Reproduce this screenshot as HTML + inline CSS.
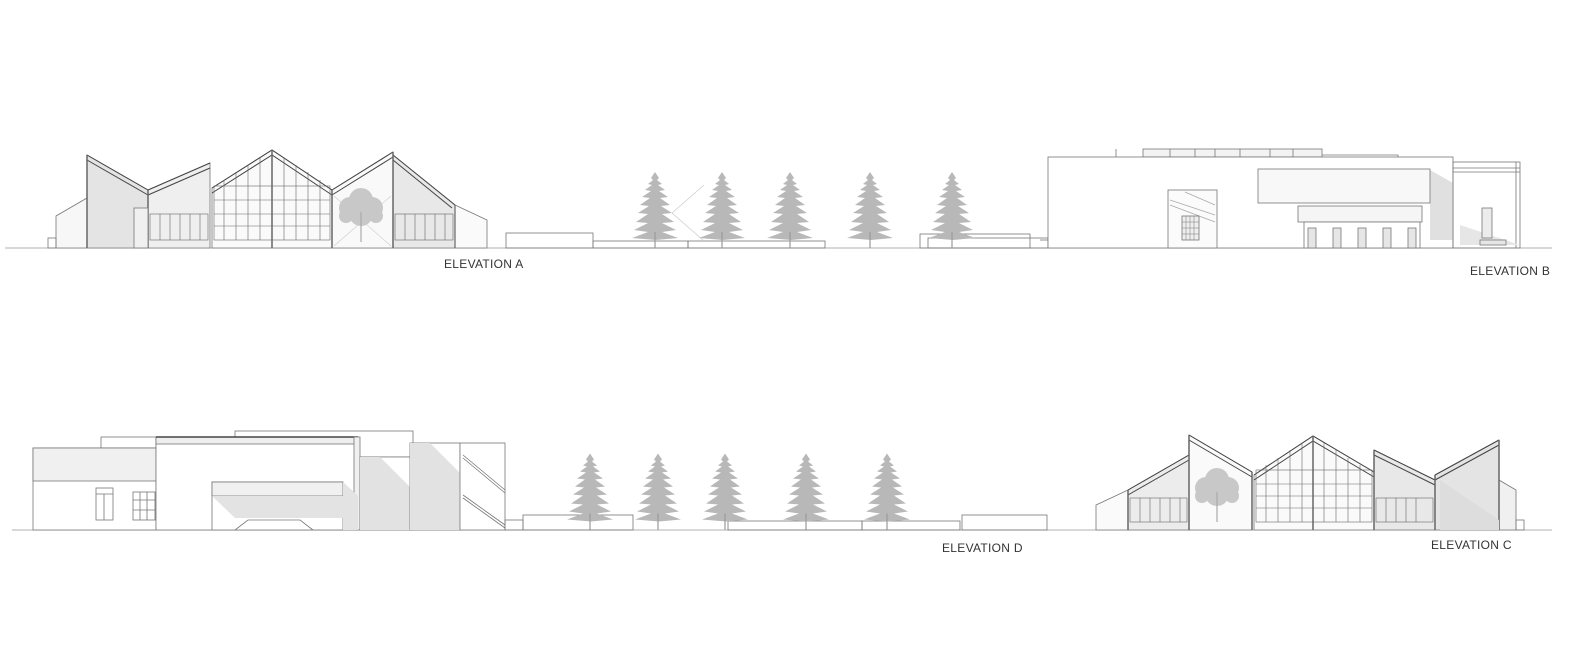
<!DOCTYPE html>
<html><head><meta charset="utf-8"><style>
html,body{margin:0;padding:0;background:#fff;overflow:hidden;width:1582px;height:649px}
svg{display:block}
text{font-family:"Liberation Sans",sans-serif;font-size:12px;fill:#333;letter-spacing:0.3px}
</style></head><body>
<svg width="1582" height="649" viewBox="0 0 1582 649" xmlns="http://www.w3.org/2000/svg">
<defs>
<symbol id="tree" viewBox="0 0 46 76" overflow="visible">
<g fill="#b8b8b8">
<path d="M23 0 L27 6 L25 8 L30 12 L26 13 L33 18 L27 19 L36 25 L28 26 L38 33 L29 34 L40 41 L30 42 L42 50 L30 51 L44 58 L30 60 L46 66 L24 68 L0 66 L16 60 L2 58 L16 51 L4 50 L16 42 L6 41 L17 34 L8 33 L18 26 L10 25 L19 19 L13 18 L20 13 L16 12 L21 8 L19 6 Z"/>
</g>
<line x1="23" y1="60" x2="23" y2="76" stroke="#999" stroke-width="1.2"/>
</symbol>
<symbol id="btree" viewBox="0 0 50 60" overflow="visible">
<g fill="#c8c8c8">
<circle cx="25" cy="18" r="12"/><circle cx="14" cy="26" r="11"/><circle cx="36" cy="26" r="11"/><circle cx="25" cy="32" r="12"/><circle cx="10" cy="34" r="7"/><circle cx="40" cy="34" r="7"/>
</g>
<line x1="25" y1="30" x2="25" y2="60" stroke="#aaa" stroke-width="1.2"/>
</symbol>
</defs>

<g stroke="#777" stroke-width="0.8" fill="none">
<line x1="5" y1="248" x2="1552" y2="248" stroke="#999"/>
<line x1="12" y1="530" x2="1552" y2="530" stroke="#999"/>

<!-- ===== ELEVATION A ===== -->
<polygon points="56,216 87,198 87,248 56,248" fill="#f7f7f7"/>
<polygon points="87,155 148,190 148,248 87,248" fill="#e4e4e4"/>
<polygon points="148,190 210,163 210,248 148,248" fill="#efefef"/>
<polygon points="212,188 272,150 332,190 332,248 212,248" fill="#fafafa"/>
<polygon points="332,190 393,152 393,248 332,248" fill="#f9f9f9"/>
<polygon points="393,155 455,205 455,248 393,248" fill="#e8e8e8"/>
<polygon points="455,205 487,220 487,248 455,248" fill="#fafafa"/>
<g stroke="#444" stroke-width="1">
<polyline points="87,155 148,190"/><polyline points="87,160 148,195"/>
<polyline points="148,190 210,163"/><polyline points="148,195 210,168"/>
<polyline points="212,188 272,150 332,190"/><polyline points="212,193 272,155 332,195"/>
<polyline points="332,190 393,152"/><polyline points="332,195 393,157"/>
<polyline points="393,155 455,205"/><polyline points="393,160 452,208"/>
</g>
<g stroke="#666" stroke-width="0.6">
<rect x="150" y="214" width="58" height="26"/>
<rect x="214" y="186" width="116" height="54"/>
<line x1="272" y1="150" x2="272" y2="248" stroke-width="1.5"/>
<path d="M224 180V240M236 172V240M248 165V240M260 158V240M284 158V240M296 165V240M308 172V240M320 180V240M214 200H330M214 214H330M214 226H330"/>
<path d="M160 214V240M170 214V240M180 214V240M190 214V240M200 214V240"/>
<rect x="395" y="214" width="58" height="26"/>
<path d="M405 214V240M415 214V240M425 214V240M435 214V240M445 214V240"/>
<line x1="334" y1="196" x2="391" y2="246" stroke="#ccc"/><line x1="391" y1="196" x2="334" y2="246" stroke="#ccc"/>
<line x1="87" y1="155" x2="87" y2="248" stroke-width="1.5"/>
<line x1="148" y1="190" x2="148" y2="248" stroke-width="1.5"/>
<line x1="332" y1="190" x2="332" y2="248" stroke-width="1.5"/>
<line x1="393" y1="152" x2="393" y2="248" stroke-width="1.5"/>
<line x1="455" y1="205" x2="455" y2="248" stroke-width="1.2"/>
</g>
<rect x="134" y="208" width="14" height="40" fill="#f0f0f0"/>
<rect x="48" y="238" width="8" height="10"/>

<rect x="506" y="233" width="87" height="15"/>
<rect x="593" y="241" width="95" height="7"/>
<rect x="688" y="241" width="137" height="7"/>
<rect x="920" y="234" width="110" height="14"/>
<rect x="928" y="238" width="120" height="10"/>
<line x1="672" y1="213" x2="704" y2="185" stroke="#ccc"/>
<line x1="672" y1="213" x2="704" y2="241" stroke="#ccc"/>
</g>
<use href="#btree" x="336" y="182" width="50" height="60"/>
<use href="#tree" x="632" y="172" width="46" height="76"/>
<use href="#tree" x="699" y="172" width="46" height="76"/>
<use href="#tree" x="767" y="172" width="46" height="76"/>
<use href="#tree" x="847" y="172" width="46" height="76"/>
<use href="#tree" x="929" y="172" width="46" height="76"/>

<g stroke="#777" stroke-width="0.8" fill="none">
<!-- ===== ELEVATION B ===== -->
<rect x="1143" y="149" width="179" height="8" fill="#f3f3f3"/>
<path d="M1170 149V157M1195 149V157M1215 149V157M1240 149V157M1270 149V157M1293 149V157"/>
<polyline points="1322,155 1398,155 1398,157"/>
<line x1="1116" y1="149" x2="1116" y2="157"/>
<rect x="1048" y="157" width="405" height="91" fill="#fff"/>
<line x1="1040" y1="240" x2="1048" y2="240"/>
<rect x="1168" y="190" width="49" height="58" fill="#fbfbfb"/>
<path d="M1170 200L1215 215M1170 205L1215 222M1185 192L1215 205" stroke="#aaa"/>
<rect x="1182" y="216" width="17" height="24" fill="#eee"/>
<path d="M1186 216V240M1190 216V240M1194 216V240M1182 222H1199M1182 228H1199M1182 234H1199" stroke-width="0.5"/>
<polygon points="1430,170 1453,183 1453,240 1430,240" fill="#e0e0e0" stroke="none"/>
<rect x="1258" y="169" width="172" height="34" fill="#f8f8f8"/>
<rect x="1298" y="206" width="124" height="16" fill="#f5f5f5"/>
<rect x="1304" y="222" width="116" height="26" fill="#fff"/>
<g fill="#e6e6e6"><rect x="1308" y="228" width="8" height="20"/><rect x="1333" y="228" width="8" height="20"/><rect x="1358" y="228" width="8" height="20"/><rect x="1383" y="228" width="8" height="20"/><rect x="1408" y="228" width="8" height="20"/></g>
<rect x="1453" y="162" width="67" height="86"/>
<line x1="1453" y1="168" x2="1520" y2="168"/><line x1="1453" y1="172" x2="1520" y2="172"/>
<line x1="1516" y1="162" x2="1516" y2="248"/>
<polygon points="1460,225 1520,245 1460,245" fill="#e6e6e6" stroke="none"/>
<rect x="1482" y="208" width="10" height="30" fill="#ececec"/>
<rect x="1480" y="240" width="26" height="5"/>

<!-- ===== ELEVATION D ===== -->
<rect x="101" y="437" width="55" height="11"/>
<rect x="33" y="448" width="123" height="82" fill="#fff"/>
<rect x="33" y="448" width="123" height="33" fill="#f0f0f0"/>
<rect x="96" y="488" width="17" height="32"/><line x1="96" y1="494" x2="113" y2="494"/><line x1="104" y1="494" x2="104" y2="520"/>
<rect x="133" y="492" width="22" height="28"/><path d="M140 492V520M147 492V520M133 500H155M133 510H155"/>
<rect x="235" y="431" width="178" height="26" fill="#fff"/>
<rect x="156" y="437" width="202" height="93" fill="#fff"/>
<rect x="156" y="437" width="202" height="7" fill="#eee"/>
<line x1="156" y1="437" x2="358" y2="437" stroke="#444" stroke-width="1.5"/>
<rect x="354" y="437" width="6" height="93" fill="#f0f0f0"/>
<polygon points="360,457 413,457 413,530 360,530" fill="#fff"/>
<polygon points="360,457 380,457 413,490 413,530 360,530" fill="#e2e2e2" stroke="none"/>
<rect x="212" y="482" width="131" height="48" fill="#fff"/>
<rect x="212" y="482" width="131" height="14" fill="#f0f0f0"/>
<polygon points="212,496 343,496 343,518 235,518" fill="#e3e3e3" stroke="none"/>
<polygon points="343,482 358,496 358,530 343,530" fill="#e3e3e3" stroke="none"/>
<polyline points="235,530 248,520 300,520 313,530"/>
<rect x="410" y="443" width="50" height="87" fill="#fff"/>
<polygon points="410,443 430,443 460,473 460,530 410,530" fill="#e2e2e2" stroke="none"/>
<rect x="460" y="443" width="45" height="87" fill="#fff"/>
<path d="M463 455L505 490M463 458L505 493M463 495L505 525M463 498L505 528"/>
<rect x="505" y="520" width="18" height="10"/>
<rect x="523" y="515" width="110" height="15"/>
<rect x="728" y="521" width="134" height="9"/>
<rect x="862" y="521" width="98" height="9"/>
<rect x="962" y="515" width="85" height="15"/>
</g>
<use href="#tree" x="567" y="453" width="46" height="77"/>
<use href="#tree" x="635" y="453" width="46" height="77"/>
<use href="#tree" x="702" y="453" width="46" height="77"/>
<use href="#tree" x="783" y="453" width="46" height="77"/>
<use href="#tree" x="864" y="453" width="46" height="77"/>

<g stroke="#777" stroke-width="0.8" fill="none">
<!-- ===== ELEVATION C ===== -->
<polygon points="1096,505 1128,490 1128,530 1096,530" fill="#fafafa"/>
<polygon points="1128,490 1189,455 1189,530 1128,530" fill="#ececec"/>
<polygon points="1189,435 1252,472 1252,530 1189,530" fill="#fafafa"/>
<polygon points="1254,475 1313,436 1374,472 1374,530 1254,530" fill="#fafafa"/>
<polygon points="1374,450 1435,480 1435,530 1374,530" fill="#e8e8e8"/>
<polygon points="1435,475 1499,440 1499,530 1435,530" fill="#e4e4e4"/>
<polygon points="1499,480 1516,490 1516,530 1499,530" fill="#f0f0f0"/>
<g stroke="#444" stroke-width="1">
<polyline points="1128,490 1189,455"/><polyline points="1128,495 1189,460"/>
<polyline points="1189,435 1252,472"/><polyline points="1189,440 1252,477"/>
<polyline points="1254,475 1313,436 1374,472"/><polyline points="1254,480 1313,441 1374,477"/>
<polyline points="1374,450 1435,480"/><polyline points="1374,455 1435,485"/>
<polyline points="1435,475 1499,440"/><polyline points="1435,480 1499,445"/>
</g>
<g stroke="#666" stroke-width="0.6">
<rect x="1130" y="498" width="57" height="24"/>
<path d="M1140 498V522M1150 498V522M1160 498V522M1170 498V522M1180 498V522"/>
<rect x="1256" y="470" width="116" height="52"/>
<line x1="1313" y1="436" x2="1313" y2="530" stroke-width="1.5"/>
<path d="M1266 465V522M1278 458V522M1290 450V522M1302 443V522M1324 443V522M1336 450V522M1348 458V522M1360 465V522M1256 484H1372M1256 496H1372M1256 508H1372"/>
<rect x="1376" y="498" width="57" height="24"/>
<path d="M1386 498V522M1396 498V522M1406 498V522M1416 498V522"/>
<line x1="1128" y1="490" x2="1128" y2="530" stroke-width="1.5"/>
<line x1="1189" y1="435" x2="1189" y2="530" stroke-width="1.5"/>
<line x1="1252" y1="472" x2="1252" y2="530" stroke-width="1.5"/>
<line x1="1374" y1="450" x2="1374" y2="530" stroke-width="1.5"/>
<line x1="1435" y1="475" x2="1435" y2="530" stroke-width="1.5"/>
<line x1="1499" y1="440" x2="1499" y2="530" stroke-width="1.5"/>
</g>
<polygon points="1440,480 1499,520 1499,530 1440,530" fill="#ddd" stroke="none"/>
<rect x="1516" y="520" width="8" height="10"/>
</g>
<use href="#btree" x="1192" y="460" width="50" height="64"/>

<text x="444" y="268">ELEVATION A</text>
<text x="1470" y="275">ELEVATION B</text>
<text x="942" y="552">ELEVATION D</text>
<text x="1431" y="549">ELEVATION C</text>
</svg>
</body></html>
